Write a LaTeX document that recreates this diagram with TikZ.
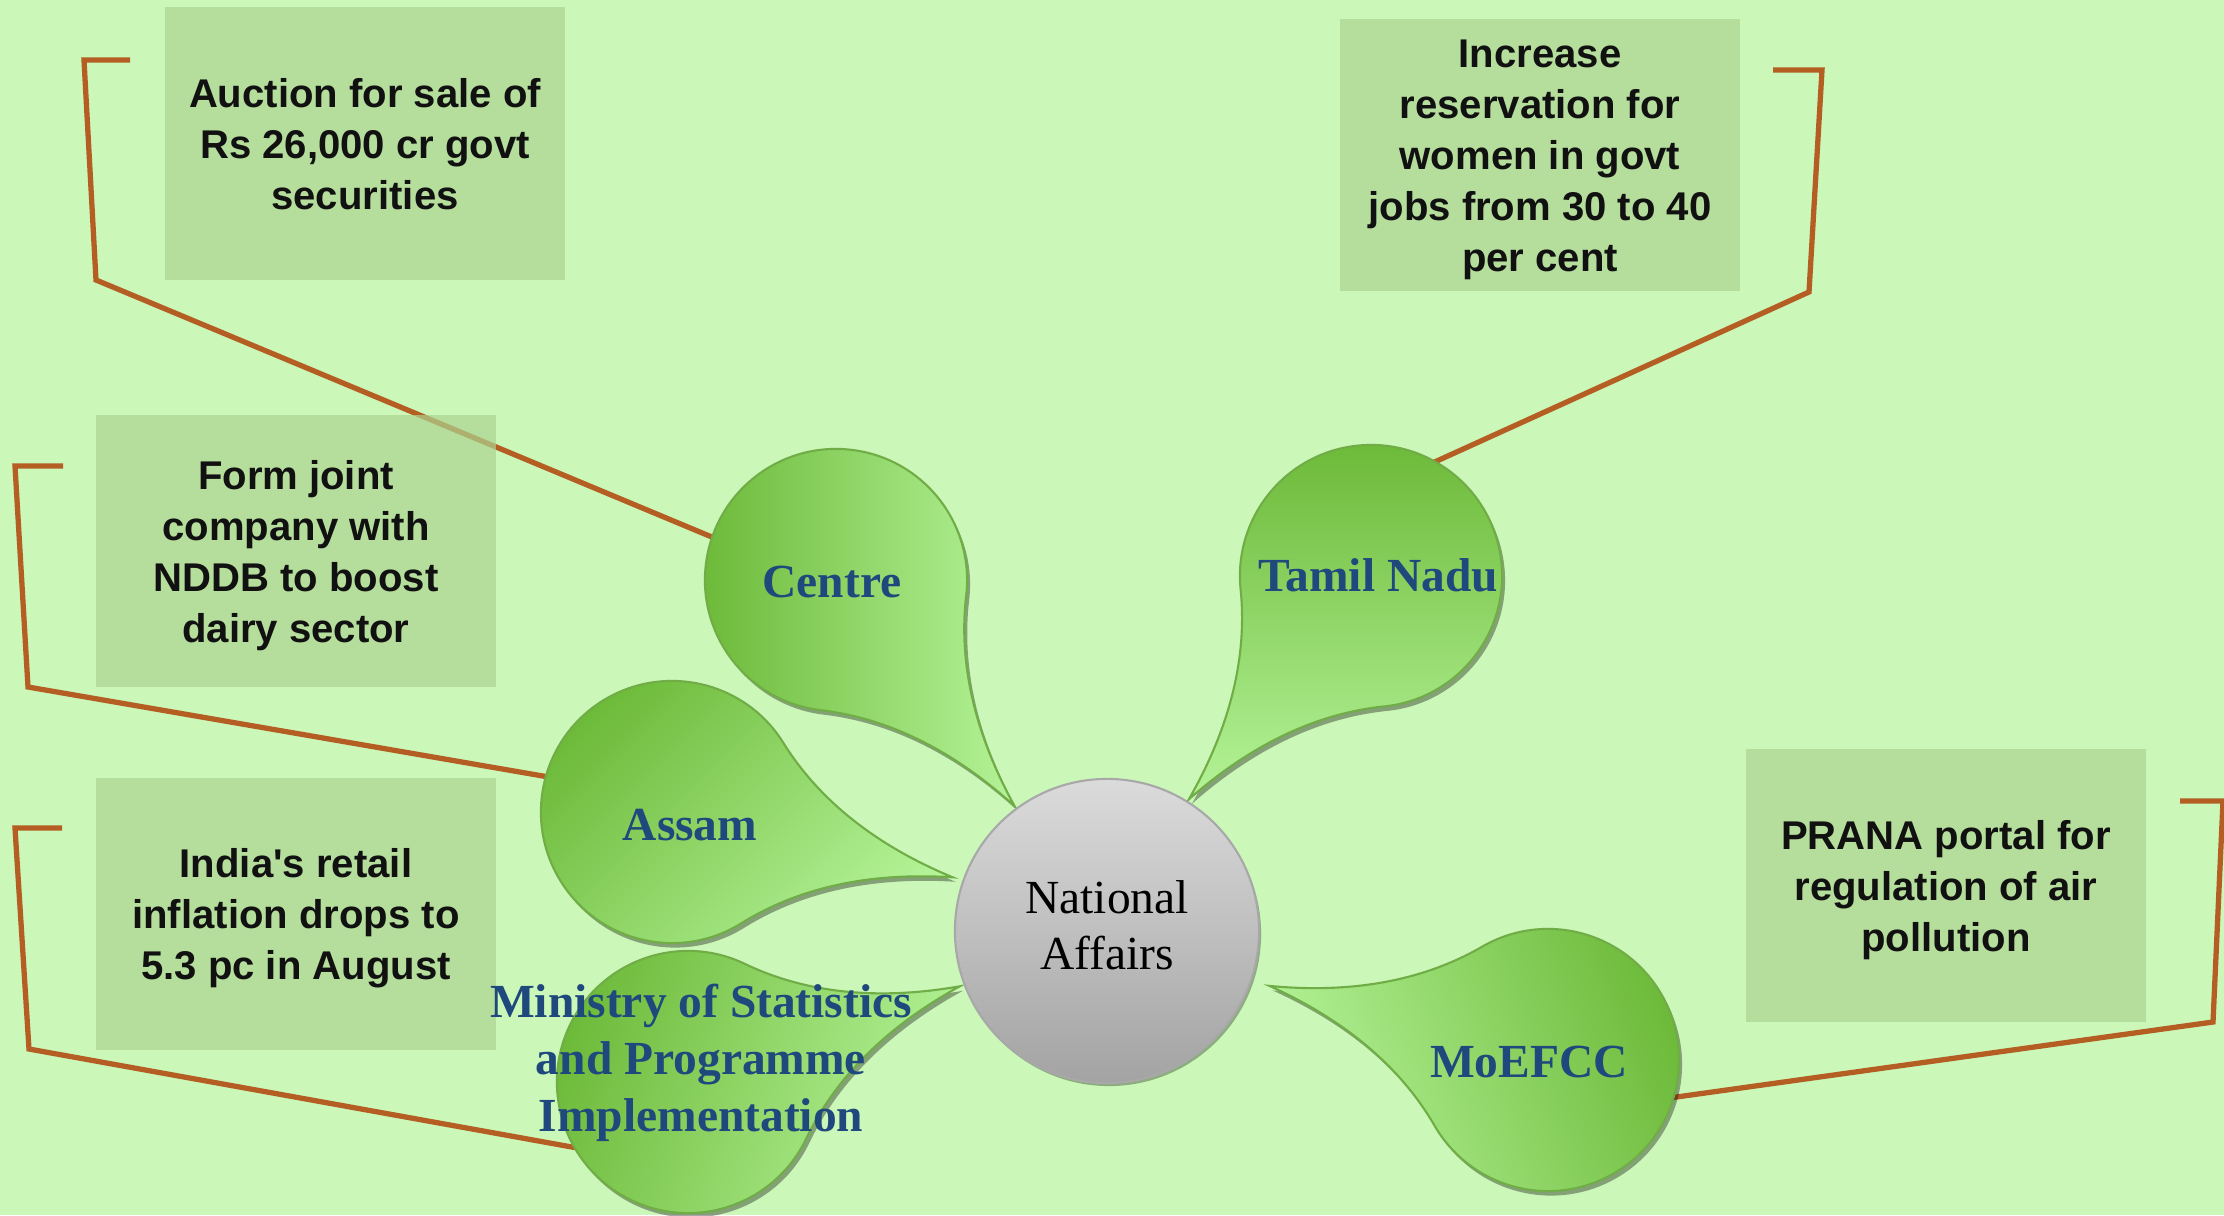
\documentclass[tikz,border=0pt]{standalone}
\usepackage{fontspec}
\setmainfont{Liberation Serif}
\newfontfamily\newsfont[Ligatures=TeXOff]{Liberation Sans}
\usetikzlibrary{calc,shadows}

\definecolor{pagegreen}{RGB}{203,247,184}
\definecolor{newsgreen}{RGB}{172,211,144}
\definecolor{bracketbrown}{RGB}{181,94,36}
\definecolor{leafdark}{RGB}{108,185,56}
\definecolor{leaflight}{RGB}{180,243,152}
\definecolor{leafedge}{RGB}{112,173,71}
\definecolor{leaftext}{RGB}{31,73,125}
\definecolor{hubtop}{RGB}{219,219,219}
\definecolor{hubbottom}{RGB}{163,163,163}
\definecolor{hubedge}{RGB}{168,168,168}
\definecolor{newsink}{RGB}{17,17,17}

\newcommand\newsstrut{\rule[-3.05pt]{0pt}{14.5pt}}

\tikzset{
  news/.style={fill=newsgreen, fill opacity=0.7, text opacity=1, text=newsink,
    minimum width=4cm, minimum height=2.72cm, inner sep=0pt, align=center,
    font=\newsfont\bfseries\fontsize{11.4}{14.5}\selectfont},
  leaf/.style={draw=leafedge, line width=0.6pt, bottom color=leafdark, top color=leaflight,
    drop shadow={shadow xshift=0.03cm, shadow yshift=-0.045cm, opacity=0.35, fill=black}},
  leaflabel/.style={text=leaftext, align=center, inner sep=0pt,
    font=\bfseries\fontsize{13.5}{16.2}\selectfont},
  bracket/.style={draw=bracketbrown, line width=1.5pt},
}

% #1 centre of the round part, #2 direction of the tip, #3 shading angle
\newcommand\leaf[3]{%
  \shade[leaf, shading angle=#3] ($(#1)+(#2:2.88cm)$)
    .. controls ($(#1)+(#2-3.8:2.064cm)$) and ($(#1)+(#2-17.6:1.476cm)$) .. ($(#1)+(#2-45:1.31cm)$)
    arc[start angle=#2-45, end angle=#2-315, radius=1.31cm]
    .. controls ($(#1)+(#2+17.6:1.476cm)$) and ($(#1)+(#2+3.8:2.064cm)$) .. cycle;}

\begin{document}
\begin{tikzpicture}[x=0.01cm, y=-0.01cm]
  \useasboundingbox[fill=pagegreen] (0,0) rectangle (2224,1215);

  \coordinate (c-centre) at (836,580);
  \coordinate (c-tamil) at (1371,576);
  \coordinate (c-assam) at (672,812);
  \coordinate (c-mospi) at (688,1082);
  \coordinate (c-moefcc) at (1548,1060);

  \coordinate (centre-in) at (731,545);
  \coordinate (centre-low) at (96,280);
  \coordinate (centre-top) at (84,60);
  \coordinate (centre-end) at (130,60);
  \coordinate (tamil-in) at (1417,470);
  \coordinate (tamil-low) at (1809,292);
  \coordinate (tamil-top) at (1822,70);
  \coordinate (tamil-end) at (1773,70);
  \coordinate (assam-in) at (566,780);
  \coordinate (assam-low) at (28,687);
  \coordinate (assam-top) at (15,466);
  \coordinate (assam-end) at (63,466);
  \coordinate (mospi-in) at (594,1151);
  \coordinate (mospi-low) at (29,1049);
  \coordinate (mospi-top) at (15,828);
  \coordinate (mospi-end) at (62,828);
  \coordinate (moefcc-in) at (1655,1100);
  \coordinate (moefcc-low) at (2213,1022);
  \coordinate (moefcc-top) at (2223,801);
  \coordinate (moefcc-end) at (2180,801);

  \draw[bracket] (centre-in) -- (centre-low) -- (centre-top) -- (centre-end);
  \draw[bracket] (tamil-in) -- (tamil-low) -- (tamil-top) -- (tamil-end);
  \draw[bracket] (assam-in) -- (assam-low) -- (assam-top) -- (assam-end);
  \draw[bracket] (mospi-in) -- (mospi-low) -- (mospi-top) -- (mospi-end);
  \draw[bracket] (moefcc-in) -- (moefcc-low) -- (moefcc-top) -- (moefcc-end);

  \node[news] (auction) at (365,143.5) {\newsstrut Auction for sale of\\Rs 26,000 cr govt\\securities\newsstrut};
  \node[news] (quota) at (1540,155) {\newsstrut Increase\\reservation for\\women in govt\\jobs from 30 to 40\\per cent\newsstrut};
  \node[news] (dairy) at (296,551) {\newsstrut Form joint\\company with\\NDDB to boost\\dairy sector\newsstrut};
  \node[news] (inflation) at (296,914) {\newsstrut India's retail\\inflation drops to\\5.3 pc in August\newsstrut};
  \node[news] (prana) at (1946,885.5) {\newsstrut PRANA portal for\\regulation of air\\pollution\newsstrut};

  \leaf{c-centre}{-51.7}{-90}
  \leaf{c-tamil}{-129.2}{-180}
  \leaf{c-assam}{-13.1}{-135}
  \leaf{c-mospi}{19.4}{-110}
  \leaf{c-moefcc}{165.1}{110}

  \node[circle, minimum size=3.04cm, draw=hubedge, line width=0.6pt,
    top color=hubtop, bottom color=hubbottom,
    drop shadow={shadow xshift=0.02cm, shadow yshift=-0.03cm, opacity=0.3, fill=black},
    align=center, font=\fontsize{13.5}{16.2}\selectfont] (hub) at (1107,931) {National\\Affairs\rule[-3.4pt]{0pt}{0pt}};

  \node[leaflabel, anchor=base] (centre) at (832,597) {Centre};
  \node[leaflabel, anchor=base] (tamil) at (1378,591) {Tamil Nadu};
  \node[leaflabel, anchor=base] (assam) at (690,840) {Assam};
  \node[leaflabel] (mospi) at (701,1063) {Ministry of Statistics\\and Programme\\Implementation};
  \node[leaflabel, anchor=base] (moefcc) at (1529,1077) {MoEFCC};
\end{tikzpicture}
\end{document}
